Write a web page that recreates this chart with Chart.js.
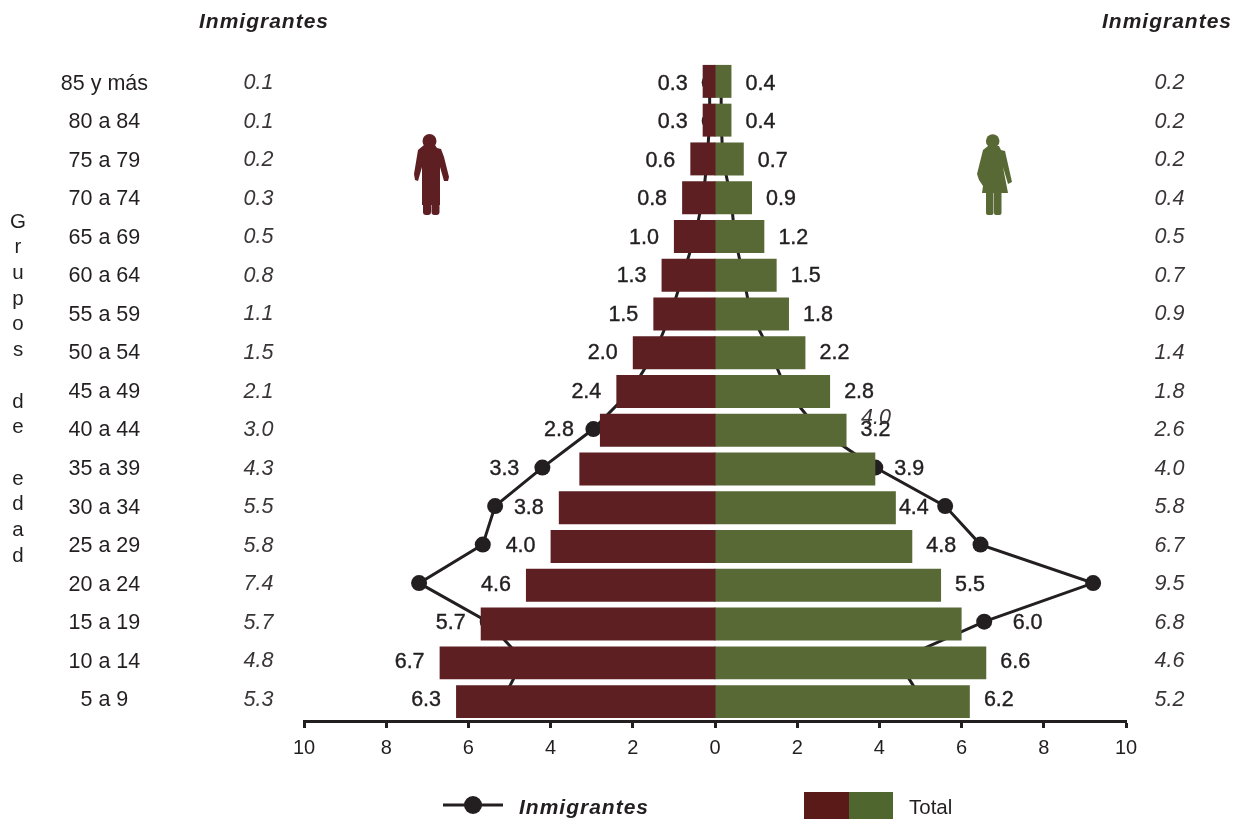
<!DOCTYPE html>
<html lang="es">
<head>
<meta charset="utf-8">
<title>Pirámide de población</title>
<script src="https://cdn.jsdelivr.net/npm/chart.js@4/dist/chart.umd.min.js"></script>
<style>html,body{margin:0;padding:0;background:#fff}canvas{display:block}</style>
</head>
<body>
<canvas id="c" width="1245" height="819"></canvas>
<script>
const categories = ['85 y más','80 a 84','75 a 79','70 a 74','65 a 69','60 a 64','55 a 59','50 a 54','45 a 49','40 a 44','35 a 39','30 a 34','25 a 29','20 a 24','15 a 19','10 a 14','5 a 9'];
const totalMen   = [0.3,0.3,0.6,0.8,1.0,1.3,1.5,2.0,2.4,2.8,3.3,3.8,4.0,4.6,5.7,6.7,6.3];
const totalWomen = [0.4,0.4,0.7,0.9,1.2,1.5,1.8,2.2,2.8,3.2,3.9,4.4,4.8,5.5,6.0,6.6,6.2];
const immigrantMenLabels   = ['0.1','0.1','0.2','0.3','0.5','0.8','1.1','1.5','2.1','3.0','4.3','5.5','5.8','7.4','5.7','4.8','5.3'];
const immigrantWomenLabels = ['0.2','0.2','0.2','0.4','0.5','0.7','0.9','1.4','1.8','2.6','4.0','5.8','6.7','9.5','6.8','4.6','5.2'];
const immigrantMenLine   = [0.13,0.13,0.19,0.29,0.49,0.78,1.07,1.46,2.04,2.96,4.2,5.35,5.65,7.2,5.53,4.67,5.15];
const immigrantWomenLine = [0.15,0.15,0.19,0.39,0.48,0.68,0.87,1.35,1.74,2.5,3.9,5.6,6.46,9.2,6.55,4.44,5.02];
const xTicks = [-10,-8,-6,-4,-2,0,2,4,6,8,10];

const MAROON = '#5e1f23', GREEN = '#596936', INK = '#231f20';
const FONT = '"Liberation Sans", Arial, Helvetica, sans-serif';
const gapLeft  = {9:41, 10:75};
const gapRight = {10:34, 11:18, 14:66};

const neg = a => a.map(v => -v);
const linePts = (a, sign) => a.map((v, i) => ({x: sign * v, y: i}));

function text(ctx, s, x, y, font, align, spacing, color, stroke) {
  ctx.save();
  ctx.font = font;
  ctx.textAlign = align;
  ctx.textBaseline = 'middle';
  ctx.fillStyle = color || INK;
  ctx.letterSpacing = spacing || '0px';
  ctx.fillText(s, x, y);
  if (stroke) { ctx.strokeStyle = color || INK; ctx.lineWidth = stroke; ctx.strokeText(s, x, y); }
  ctx.restore();
}
function rr(ctx, x, y, w, h, r) { ctx.beginPath(); ctx.roundRect(x, y, w, h, r); ctx.fill(); }

function man(ctx) {
  ctx.save();
  ctx.fillStyle = MAROON;
  ctx.beginPath(); ctx.arc(429.5, 141, 7, 0, Math.PI * 2); ctx.fill();
  ctx.beginPath();
  ctx.moveTo(424, 145); ctx.lineTo(435, 145); ctx.lineTo(437, 148); ctx.lineTo(441, 149);
  ctx.lineTo(444, 157); ctx.lineTo(449, 177); ctx.lineTo(448, 181); ctx.lineTo(444, 181);
  ctx.lineTo(440, 167); ctx.lineTo(440, 205); ctx.lineTo(422, 205); ctx.lineTo(422, 167);
  ctx.lineTo(418, 181); ctx.lineTo(415, 180); ctx.lineTo(414, 174); ctx.lineTo(418, 150); ctx.closePath();
  ctx.fill();
  rr(ctx, 423, 195, 8, 20, 3); rr(ctx, 431.5, 195, 8, 20, 3);
  ctx.restore();
}
function woman(ctx) {
  ctx.save();
  ctx.fillStyle = GREEN;
  ctx.beginPath(); ctx.arc(992.7, 141, 6.8, 0, Math.PI * 2); ctx.fill();
  ctx.beginPath();
  ctx.moveTo(988, 146); ctx.lineTo(999, 146); ctx.lineTo(1001, 150); ctx.lineTo(1005, 151);
  ctx.lineTo(1012, 182); ctx.lineTo(1008, 184); ctx.lineTo(1003, 167);
  ctx.lineTo(1008, 193); ctx.lineTo(982, 193); ctx.lineTo(983, 186);
  ctx.lineTo(979, 180); ctx.lineTo(977, 174); ctx.lineTo(983, 150); ctx.closePath();
  ctx.fill();
  rr(ctx, 986, 190, 7.5, 25, 2); rr(ctx, 994, 190, 7.5, 25, 2);
  ctx.restore();
}

const annotations = {
  id: 'annotations',
  afterDraw(chart) {
    const {ctx, scales} = chart;
    const x = scales.x, yy = scales.y2;
    const size = '21.5px ' + FONT;
    const italic = 'italic ' + size;
    const head = 'italic bold 21px ' + FONT;
    text(ctx, 'Inmigrantes', 199, 22, head, 'left', '1px');
    text(ctx, 'Inmigrantes', 1102, 22, head, 'left', '1px');
    categories.forEach((_, i) => {
      const y = yy.getPixelForValue(i);
      text(ctx, immigrantMenLabels[i], 258.5, y + 1, italic, 'center', '0px', '#3a3637');
      text(ctx, immigrantWomenLabels[i], 1169.5, y + 1, italic, 'center', '0px', '#3a3637');
      const lx = x.getPixelForValue(-totalMen[i]) - (gapLeft[i] || 30);
      const rx = x.getPixelForValue(totalWomen[i]) + (gapRight[i] || 29);
      text(ctx, totalMen[i].toFixed(1), lx, y + 1.5, size, 'center', '0px', INK, 0.4);
      text(ctx, totalWomen[i].toFixed(1), rx, y + 1.5, size, 'center', '0px', INK, 0.4);
    });
    text(ctx, '4.0', 876, 418, italic, 'center', '0px', '#3a3637');
    [...'Grupos de edad'].forEach((ch, i) => {
      if (ch !== ' ') text(ctx, ch, 18, 222 + i * 25.7, '20.5px ' + FONT, 'center');
    });
    man(ctx); woman(ctx);
    ctx.save();
    ctx.strokeStyle = INK; ctx.lineWidth = 3;
    ctx.beginPath(); ctx.moveTo(443, 805); ctx.lineTo(503, 805); ctx.stroke();
    ctx.fillStyle = INK;
    ctx.beginPath(); ctx.arc(473, 805, 9, 0, Math.PI * 2); ctx.fill();
    ctx.fillStyle = '#5a1a17'; ctx.fillRect(804, 792, 45, 27);
    ctx.fillStyle = '#4f662f'; ctx.fillRect(849, 792, 44, 27);
    ctx.restore();
    text(ctx, 'Inmigrantes', 519, 808, head, 'left', '1px');
    text(ctx, 'Total', 909, 808, '20.5px ' + FONT, 'left');
  }
};

const lineStyle = {
  type: 'line', xAxisID: 'x', yAxisID: 'y2', order: 2,
  borderColor: INK, backgroundColor: INK, borderWidth: 3,
  pointRadius: 8, pointBackgroundColor: INK, pointBorderWidth: 0,
  tension: 0, fill: false
};
const barStyle = {
  type: 'bar', xAxisID: 'x', yAxisID: 'y', order: 1, grouped: false,
  categoryPercentage: 1, barPercentage: 0.85, borderWidth: 0
};

new Chart(document.getElementById('c'), {
  type: 'bar',
  data: {
    labels: categories,
    datasets: [
      {...barStyle, label: 'Total hombres', data: neg(totalMen), backgroundColor: MAROON, base: 0.012},
      {...barStyle, label: 'Total mujeres', data: totalWomen, backgroundColor: GREEN, base: -0.012},
      {...lineStyle, label: 'Inmigrantes hombres', data: linePts(immigrantMenLine, -1)},
      {...lineStyle, label: 'Inmigrantes mujeres', data: linePts(immigrantWomenLine, 1)}
    ]
  },
  options: {
    indexAxis: 'y',
    responsive: false,
    animation: false,
    devicePixelRatio: 1,
    layout: {padding: {top: 62, right: 119, left: 0, bottom: 0}},
    plugins: {legend: {display: false}, tooltip: {enabled: false}},
    scales: {
      x: {
        type: 'linear', position: 'bottom', min: -10, max: 10,
        afterBuildTicks: s => { s.ticks = xTicks.map(value => ({value})); },
        afterFit: s => { s.height = 98; s.paddingLeft = 0; s.paddingRight = 0; },
        border: {display: true, color: INK, width: 3},
        grid: {display: true, drawOnChartArea: false, drawTicks: true, tickColor: INK, tickWidth: 3, tickLength: 7},
        ticks: {
          autoSkip: false, maxRotation: 0, padding: 8, color: INK,
          font: {family: FONT, size: 20},
          callback: v => String(Math.abs(v))
        }
      },
      y: {type: 'category', display: false, offset: true, grid: {display: false}},
      y2: {
        type: 'linear', axis: 'y', position: 'left', reverse: true, offset: false, bounds: 'data', min: -0.53, max: 16.58,
        afterBuildTicks: s => { s.ticks = categories.map((_, value) => ({value})); },
        afterFit: s => { s.width = 304; s.paddingTop = 0; s.paddingBottom = 0; },
        border: {display: false},
        grid: {display: false, drawTicks: false},
        ticks: {
          autoSkip: false, crossAlign: 'center', padding: 156, labelOffset: 1.5, color: INK,
          font: {family: FONT, size: 21.5},
          callback: v => categories[v]
        }
      }
    }
  },
  plugins: [annotations]
});
</script>
</body>
</html>
